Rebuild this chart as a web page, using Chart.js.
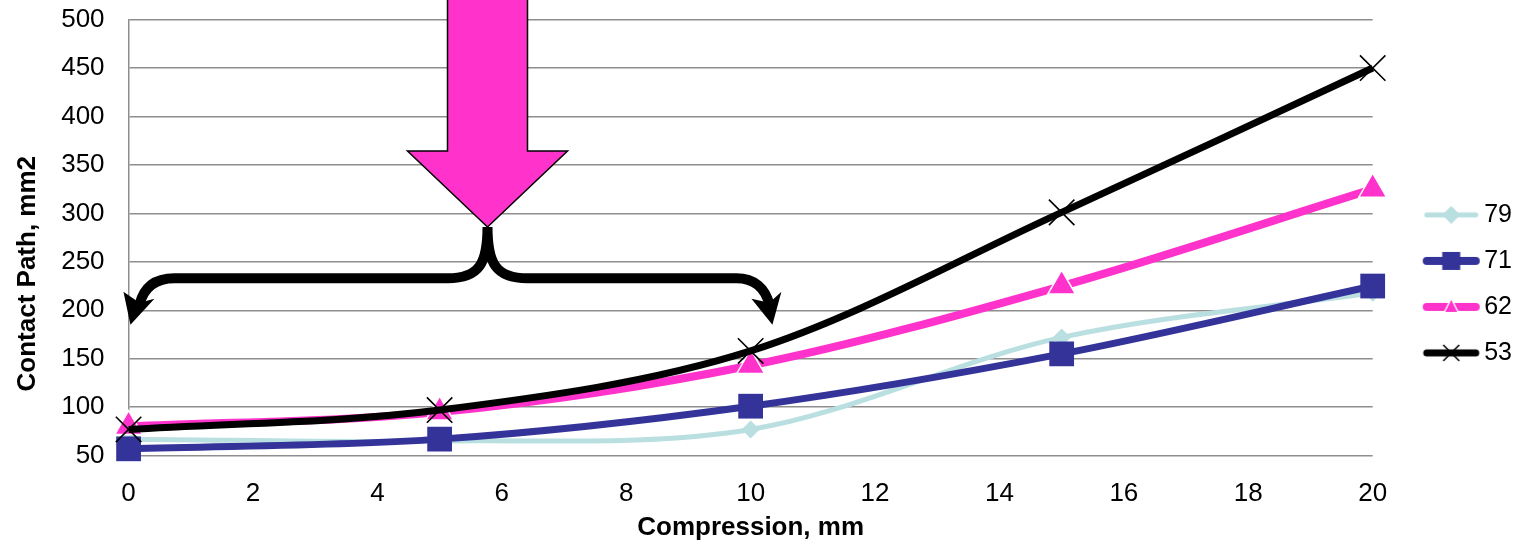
<!DOCTYPE html>
<html>
<head>
<meta charset="utf-8">
<script src="https://cdn.jsdelivr.net/npm/chart.js@4.4.1/dist/chart.umd.min.js"></script>
<style>
  html, body { margin: 0; padding: 0; background: #ffffff; }
  #wrap { width: 1526px; height: 543px; position: relative; }
</style>
</head>
<body>
<div id="wrap"><canvas id="chart"></canvas></div>
<script>
// Compression (mm) at which the contact path was measured
const compression = [0, 5, 10, 15, 20];

// Contact path (mm2) for each hardness series
const seriesNames = ['79', '71', '62', '53'];
const contact79 = [67, 65, 77, 172, 218];
const contact71 = [57, 67, 101, 155, 225];
const contact62 = [80, 95, 143, 225, 325];
const contact53 = [77, 97, 158, 301, 450];

// Axis tick values
const xTickValues = [0, 2, 4, 6, 8, 10, 12, 14, 16, 18, 20];
const yTickValues = [50, 100, 150, 200, 250, 300, 350, 400, 450, 500];

// Call-out: brace spanning the low-compression range, with the pointer arrow above it
const braceLeftX = 0.03, braceRightX = 10.35, braceCentreX = 5.77;
const braceCuspY = 286, braceBarY = 233, braceTipY = 185;

const FONT = "'Liberation Sans', Arial, Helvetica, sans-serif";
const LIGHT_BLUE = '#B9DFE1';
const NAVY = '#333399';
const PINK = '#FF33CC';
const BLACK = '#000000';
const GRID = '#8E8E8E';

// Legend swatch: a short line with the series marker in its middle
function legendIcon(color, lineWidth, marker) {
  const c = document.createElement('canvas');
  c.width = 110; c.height = 32;
  const g = c.getContext('2d');
  const x0 = 49, x1 = 98, cy = 16, mx = (x0 + x1) / 2;
  g.strokeStyle = color; g.lineWidth = lineWidth; g.lineCap = 'round';
  g.beginPath(); g.moveTo(x0, cy); g.lineTo(x1, cy); g.stroke();
  g.fillStyle = color;
  if (marker === 'diamond') {
    g.beginPath(); g.moveTo(mx, cy - 9); g.lineTo(mx + 9, cy); g.lineTo(mx, cy + 9); g.lineTo(mx - 9, cy); g.closePath(); g.fill();
  } else if (marker === 'square') {
    g.fillRect(mx - 9, cy - 9, 18, 18);
  } else if (marker === 'triangle') {
    g.beginPath(); g.moveTo(mx, cy - 10); g.lineTo(mx + 8, cy + 6); g.lineTo(mx - 8, cy + 6); g.closePath();
    g.fillStyle = '#ffffff'; g.fill();
    g.beginPath(); g.moveTo(mx, cy - 7); g.lineTo(mx + 6, cy + 5); g.lineTo(mx - 6, cy + 5); g.closePath();
    g.fillStyle = color; g.fill();
  } else if (marker === 'cross') {
    g.lineWidth = 1.6; g.lineCap = 'butt';
    g.beginPath(); g.moveTo(mx - 8, cy - 8); g.lineTo(mx + 8, cy + 8); g.moveTo(mx + 8, cy - 8); g.lineTo(mx - 8, cy + 8); g.stroke();
  }
  return c;
}

const icons = [
  legendIcon(LIGHT_BLUE, 5, 'diamond'),
  legendIcon(NAVY, 8, 'square'),
  legendIcon(PINK, 8, 'triangle'),
  legendIcon(BLACK, 7, 'cross')
];

function points(values) {
  return compression.map((c, i) => ({ x: c, y: values[i] }));
}

const calloutPlugin = {
  id: 'callout',
  afterDatasetsDraw(chart) {
    const { ctx, scales: { x, y } } = chart;
    const px = v => x.getPixelForValue(v);
    const py = v => y.getPixelForValue(v);
    const cx = px(braceCentreX), cy = py(braceCuspY), hy = py(braceBarY);
    const lx = px(braceLeftX), rx = px(braceRightX), ty = py(braceTipY);

    ctx.save();
    // block arrow pointing down at the brace
    const headH = 76, headW = 80, shaftW = 40;
    ctx.beginPath();
    ctx.moveTo(cx - shaftW, -4);
    ctx.lineTo(cx + shaftW, -4);
    ctx.lineTo(cx + shaftW, cy - headH);
    ctx.lineTo(cx + headW, cy - headH);
    ctx.lineTo(cx, cy);
    ctx.lineTo(cx - headW, cy - headH);
    ctx.lineTo(cx - shaftW, cy - headH);
    ctx.closePath();
    ctx.fillStyle = PINK;
    ctx.fill();
    ctx.lineWidth = 1.5;
    ctx.strokeStyle = BLACK;
    ctx.lineJoin = 'miter';
    ctx.stroke();

    // curly brace with arrowheads at both ends
    ctx.lineWidth = 10;
    ctx.lineJoin = 'round';
    ctx.lineCap = 'butt';
    ctx.strokeStyle = BLACK;
    ctx.beginPath();
    ctx.moveTo(cx, cy);
    ctx.bezierCurveTo(cx, cy + 36, cx - 8, hy, cx - 40, hy);
    ctx.lineTo(lx + 44, hy);
    ctx.bezierCurveTo(lx + 24, hy, lx + 13, hy + 10, lx + 9, ty - 20);
    ctx.moveTo(cx, cy);
    ctx.bezierCurveTo(cx, cy + 36, cx + 8, hy, cx + 40, hy);
    ctx.lineTo(rx - 36, hy);
    ctx.bezierCurveTo(rx - 18, hy, rx - 7, hy + 10, rx - 3, ty - 20);
    ctx.stroke();

    ctx.fillStyle = BLACK;
    ctx.beginPath();
    ctx.moveTo(lx, ty);
    ctx.lineTo(lx - 7, ty - 33);
    ctx.lineTo(lx + 9, ty - 22);
    ctx.lineTo(lx + 24, ty - 26);
    ctx.closePath();
    ctx.fill();
    ctx.beginPath();
    ctx.moveTo(rx, ty);
    ctx.lineTo(rx - 21, ty - 26);
    ctx.lineTo(rx - 3, ty - 22);
    ctx.lineTo(rx + 9, ty - 33);
    ctx.closePath();
    ctx.fill();
    ctx.restore();
  }
};

const lineDefaults = {
  tension: 0.33,
  clip: false,
  fill: false,
  pointHoverRadius: 0
};

new Chart(document.getElementById('chart'), {
  type: 'line',
  data: {
    datasets: [
      Object.assign({}, lineDefaults, {
        label: seriesNames[0], data: points(contact79), order: 4,
        borderColor: LIGHT_BLUE, backgroundColor: LIGHT_BLUE, borderWidth: 5,
        pointStyle: 'rectRot', pointRadius: 9, pointBorderWidth: 0,
        pointBackgroundColor: LIGHT_BLUE
      }),
      Object.assign({}, lineDefaults, {
        label: seriesNames[1], data: points(contact71), order: 3,
        borderColor: NAVY, backgroundColor: NAVY, borderWidth: 7,
        pointStyle: 'rect', pointRadius: 17.5, pointBorderWidth: 0,
        pointBackgroundColor: NAVY
      }),
      Object.assign({}, lineDefaults, {
        label: seriesNames[2], data: points(contact62), order: 2,
        borderColor: PINK, backgroundColor: PINK, borderWidth: 8,
        pointStyle: 'triangle', pointRadius: 16, pointBorderWidth: 1.5,
        pointBorderColor: '#ffffff', pointBackgroundColor: PINK
      }),
      Object.assign({}, lineDefaults, {
        label: seriesNames[3], data: points(contact53), order: 1,
        borderColor: BLACK, backgroundColor: BLACK, borderWidth: 7,
        pointStyle: 'crossRot', pointRadius: 18, pointBorderWidth: 1.6,
        pointBorderColor: BLACK
      })
    ]
  },
  options: {
    responsive: true,
    maintainAspectRatio: false,
    animation: false,
    events: [],
    layout: { padding: { top: 19, left: 0, right: 4, bottom: 0 } },
    scales: {
      x: {
        type: 'linear',
        min: 0, max: 20,
        afterBuildTicks: s => { s.ticks = xTickValues.map(v => ({ value: v })); },
        grid: { display: false, drawTicks: false },
        border: { display: false },
        ticks: { color: BLACK, font: { family: FONT, size: 26 }, padding: 23, maxRotation: 0 },
        title: {
          display: true, text: 'Compression, mm', color: BLACK,
          font: { family: FONT, size: 26, weight: 'bold' },
          padding: { top: -21, bottom: 0 }
        }
      },
      y: {
        type: 'linear',
        min: 50, max: 500,
        afterBuildTicks: s => { s.ticks = yTickValues.map(v => ({ value: v })); },
        afterFit: s => { s.paddingTop = 16; },
        grid: { color: GRID, lineWidth: 1.5, drawTicks: false },
        border: { display: true, color: GRID, width: 1.5 },
        ticks: { color: BLACK, font: { family: FONT, size: 26 }, padding: 24 },
        title: {
          display: true, text: 'Contact Path, mm2' + '\u00A0'.repeat(10), color: BLACK,
          font: { family: FONT, size: 26, weight: 'bold' },
          padding: { top: 12, bottom: -6 }
        }
      }
    },
    plugins: {
      tooltip: { enabled: false },
      legend: {
        position: 'right',
        align: 'center',
        title: { display: true, text: ' ', font: { size: 4 }, padding: 0.5 },
        labels: {
          usePointStyle: true,
          pointStyleWidth: 78,
          padding: 21,
          color: BLACK,
          font: { family: FONT, size: 25 },
          sort: (a, b) => a.datasetIndex - b.datasetIndex,
          generateLabels(chart) {
            const items = Chart.defaults.plugins.legend.labels.generateLabels(chart);
            items.forEach(it => { it.pointStyle = icons[it.datasetIndex]; it.rotation = 0; });
            return items;
          }
        }
      }
    }
  },
  plugins: [calloutPlugin]
});
</script>
</body>
</html>
